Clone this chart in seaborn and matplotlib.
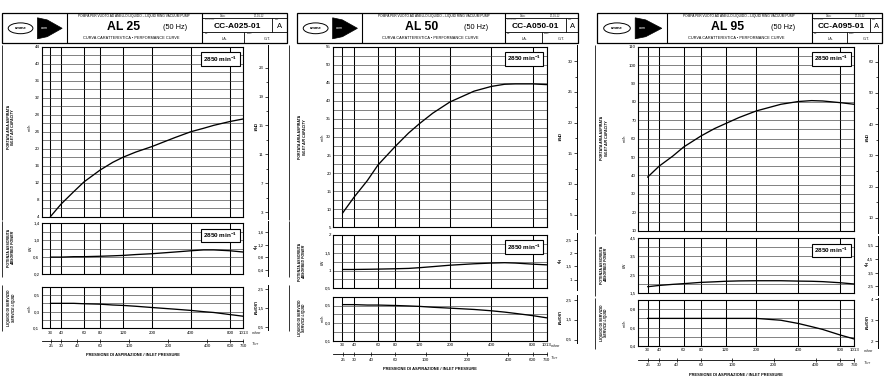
import matplotlib
matplotlib.use("Agg")
import numpy as np
import pandas as pd
import matplotlib.pyplot as plt
import matplotlib.ticker as mticker
from matplotlib.patches import Rectangle, Ellipse, Polygon
import seaborn as sns

# ---------------- data ----------------
pressure_mbar = [33, 40, 50, 60, 80, 100, 120, 150, 200, 300, 400, 500, 600, 800, 1013]
grid_mbar = [33, 40, 60, 80, 120, 200, 400, 800, 1013]
grid_mbar_labels = ["33", "40", "60", "80", "120", "200", "400", "800", "1013"]
torr_ticks = [25, 30, 40, 60, 100, 200, 400, 600, 760]

models = ["AL 25", "AL 50", "AL 95"]
drawing_codes = ["CC-A025-01", "CC-A050-01", "CC-A095-01"]

al25_capacity = [4.0, 7.0, 9.9, 12.2, 15.0, 16.8, 18.0, 19.2, 20.5, 22.6, 24.0, 24.8, 25.5, 26.4, 27.0]
al25_power = [0.60, 0.60, 0.61, 0.61, 0.62, 0.63, 0.64, 0.66, 0.68, 0.72, 0.75, 0.77, 0.77, 0.75, 0.72]
al25_liquid = [0.40, 0.40, 0.40, 0.395, 0.39, 0.38, 0.375, 0.365, 0.35, 0.33, 0.315, 0.30, 0.29, 0.265, 0.245]

al50_capacity = [8.9, 13.3, 17.9, 22.3, 27.4, 31.1, 33.7, 36.6, 39.7, 42.7, 44.0, 44.6, 44.7, 44.7, 44.5]
al50_power = [1.03, 1.03, 1.035, 1.04, 1.05, 1.06, 1.08, 1.11, 1.15, 1.19, 1.21, 1.22, 1.21, 1.18, 1.16]
al50_liquid = [0.51, 0.51, 0.505, 0.505, 0.50, 0.495, 0.49, 0.48, 0.47, 0.455, 0.44, 0.425, 0.41, 0.385, 0.36]

al95_capacity = [39.1, 45.1, 50.5, 55.5, 61.5, 65.5, 68.2, 71.5, 75.1, 78.7, 80.2, 80.7, 80.5, 79.6, 78.7]
al95_power = [1.83, 1.90, 1.96, 2.00, 2.07, 2.10, 2.13, 2.15, 2.16, 2.16, 2.14, 2.13, 2.11, 2.05, 1.98]
al95_liquid = [0.70, 0.70, 0.70, 0.70, 0.70, 0.70, 0.70, 0.70, 0.70, 0.68, 0.645, 0.61, 0.58, 0.52, 0.476]

# axis scales / tick labels
al25_cap_ticks = [4, 8, 12, 16, 20, 24, 28, 32, 36, 40, 44]
al50_cap_ticks = [5, 10, 15, 20, 25, 30, 35, 40, 45, 50, 55]
al95_cap_ticks = [10, 20, 30, 40, 50, 60, 70, 80, 90, 100, 110]
al25_pow_ticks, al25_pow_labels = [0.2, 0.6, 1.0, 1.4], ["0,2", "0,6", "1,0", "1,4"]
al50_pow_ticks, al50_pow_labels = [0.5, 1.0, 1.5, 2.0], ["0,5", "1", "1,5", "2"]
al95_pow_ticks, al95_pow_labels = [1.5, 2.5, 3.5, 4.5], ["1,5", "2,5", "3,5", "4,5"]
al25_liq_ticks, al25_liq_labels = [0.1, 0.3, 0.5], ["0,1", "0,3", "0,5"]
al50_liq_ticks, al50_liq_labels = [0.1, 0.3, 0.5], ["0,1", "0,3", "0,5"]
al95_liq_ticks, al95_liq_labels = [0.4, 0.6, 0.8], ["0,4", "0,6", "0,8"]
al25_cfm_ticks = [3, 7, 11, 15, 19, 23]
al50_cfm_ticks = [5, 10, 15, 20, 25, 30]
al95_cfm_ticks = [10, 20, 30, 40, 50, 60]
al25_hp_ticks, al25_hp_labels = [0.4, 0.8, 1.2, 1.6], ["0,4", "0,8", "1,2", "1,6"]
al50_hp_ticks, al50_hp_labels = [1.0, 1.5, 2.0, 2.5], ["1", "1,5", "2", "2,5"]
al95_hp_ticks, al95_hp_labels = [2.5, 3.5, 4.5, 5.5], ["2,5", "3,5", "4,5", "5,5"]
al25_gpm_ticks, al25_gpm_labels = [0.5, 1.5, 2.5], ["0,5", "1,5", "2,5"]
al50_gpm_ticks, al50_gpm_labels = [0.5, 1.5, 2.5], ["0,5", "1,5", "2,5"]
al95_gpm_ticks, al95_gpm_labels = [2, 3, 4], ["2", "3", "4"]

CFM_PER_M3H = 0.5886
HP_PER_KW = 1.341
GPM_PER_M3H = 4.403
MBAR_PER_TORR = 1.33322

# ---------------- style ----------------
sns.set_theme(style="white")
plt.rcParams["font.family"] = ["Liberation Sans", "DejaVu Sans"]
plt.rcParams["mathtext.fontset"] = "custom"
plt.rcParams["mathtext.rm"] = "Liberation Sans"
plt.rcParams["mathtext.bf"] = "Liberation Sans:bold"

W, H = 890, 379
fig = plt.figure(figsize=(W / 100, H / 100), dpi=100)
fig.patch.set_facecolor("white")


def rect(x0, y0, x1, y1):
    return [x0 / W, 1 - y1 / H, (x1 - x0) / W, (y1 - y0) / H]


XMIN, XMAX = 28.3, 1013
TS = 3.2  # tick label size

sheets = [
    dict(model=models[0], code=drawing_codes[0], hdr=(1.7, 286.7, 13.3, 43.3), lx=66.7, tx=202,
         px=(41.7, 243.3), main_y=(46.7, 216.7), pow_y=(223.3, 274), liq_y=(286.7, 328.3),
         rx=268, unit_x=254, mbar_x=256.5, torr_y=340.7, cap_y=355,
         left_x=9, unit_left=(29.5, 30.5, 30), text_y=(127, 248, 308),
         cap=al25_capacity, pw=al25_power, lq=al25_liquid,
         cap_lim=(4, 44), cap_t=al25_cap_ticks, cap_minor=2,
         pow_lim=(0.2, 1.4), pow_t=al25_pow_ticks, pow_l=al25_pow_labels, pow_minor=0.2,
         liq_lim=(0.1, 0.6), liq_t=al25_liq_ticks, liq_l=al25_liq_labels, liq_minor=0.1,
         cfm_t=al25_cfm_ticks, hp_t=al25_hp_ticks, hp_l=al25_hp_labels,
         gpm_t=al25_gpm_ticks, gpm_l=al25_gpm_labels),
    dict(model=models[1], code=drawing_codes[1], hdr=(296.7, 578.3, 13.3, 43.3), lx=362, tx=505,
         px=(333.3, 546.7), main_y=(46.7, 227.3), pow_y=(235, 288.3), liq_y=(296.7, 340.7),
         rx=576.7, unit_x=558, mbar_x=556, torr_y=354.3, cap_y=369,
         left_x=300, unit_left=(322.5, 322.5, 322.5), text_y=(137, 262, 318),
         cap=al50_capacity, pw=al50_power, lq=al50_liquid,
         cap_lim=(5, 55), cap_t=al50_cap_ticks, cap_minor=2.5,
         pow_lim=(0.5, 2.0), pow_t=al50_pow_ticks, pow_l=al50_pow_labels, pow_minor=0.25,
         liq_lim=(0.1, 0.6), liq_t=al50_liq_ticks, liq_l=al50_liq_labels, liq_minor=0.1,
         cfm_t=al50_cfm_ticks, hp_t=al50_hp_ticks, hp_l=al50_hp_labels,
         gpm_t=al50_gpm_ticks, gpm_l=al50_gpm_labels),
    dict(model=models[2], code=drawing_codes[2], hdr=(596.7, 882.3, 13.3, 43.3), lx=666.7, tx=811.7,
         px=(638.3, 854.3), main_y=(46.7, 230.7), pow_y=(238.3, 292.7), liq_y=(300, 346),
         rx=878, unit_x=865, mbar_x=869, torr_y=360, cap_y=375,
         left_x=602, unit_left=(624.5, 624.5, 624.5), text_y=(138, 265, 323),
         cap=al95_capacity, pw=al95_power, lq=al95_liquid,
         cap_lim=(10, 110), cap_t=al95_cap_ticks, cap_minor=5,
         pow_lim=(1.5, 4.5), pow_t=al95_pow_ticks, pow_l=al95_pow_labels, pow_minor=0.5,
         liq_lim=(0.4, 0.9), liq_t=al95_liq_ticks, liq_l=al95_liq_labels, liq_minor=0.1,
         cfm_t=al95_cfm_ticks, hp_t=al95_hp_ticks, hp_l=al95_hp_labels,
         gpm_t=al95_gpm_ticks, gpm_l=al95_gpm_labels),
]


def panel(s, yrange, values, ylim, ticks, labels, minor_step, bottom_labels, speed_box):
    ax = fig.add_axes(rect(s["px"][0], yrange[0], s["px"][1], yrange[1]))
    df = pd.DataFrame({"pressure": pressure_mbar, "value": values})
    sns.lineplot(data=df, x="pressure", y="value", ax=ax, color="black", linewidth=0.95)
    ax.set_xscale("log")
    ax.set_xlim(XMIN, XMAX)
    ax.set_ylim(*ylim)
    ax.set_xticks(grid_mbar)
    ax.xaxis.set_minor_locator(mticker.NullLocator())
    if bottom_labels:
        ax.set_xticklabels(grid_mbar_labels)
    else:
        ax.set_xticklabels([])
    ax.set_yticks(ticks)
    ax.set_yticklabels(labels)
    n = int(round((ylim[1] - ylim[0]) / minor_step))
    ax.set_yticks([ylim[0] + i * minor_step for i in range(n + 1)], minor=True)
    ax.grid(True, axis="x", which="major", color="black", lw=0.75)
    ax.grid(True, axis="y", which="both", color="#3c3c3c", lw=0.45)
    ax.tick_params(axis="both", which="both", length=0, labelsize=TS, pad=1.6, colors="black")
    ax.set_xlabel("")
    ax.set_ylabel("")
    for sp in ax.spines.values():
        sp.set_color("black")
        sp.set_linewidth(0.8)
    if speed_box:
        ax.annotate("2850 min$^{\\mathbf{-1}}$", xy=(1, 1), xycoords="axes fraction",
                    xytext=(-5.5, -7.5), textcoords="offset pixels", ha="right", va="top",
                    fontsize=4.6, fontweight="bold", color="black",
                    bbox=dict(boxstyle="square,pad=0.35", fc="white", ec="black", lw=0.8))
    return ax


def right_axis(s, yrange, ylim, factor, ticks, labels, minor=None):
    e = 2.0
    vpp = (ylim[1] - ylim[0]) / (yrange[1] - yrange[0])
    lo = (ylim[0] - e * vpp) * factor
    hi = (ylim[1] + e * vpp) * factor
    rax = fig.add_axes(rect(s["rx"], yrange[0] - e, s["rx"] + 1.0, yrange[1] + e))
    rax.patch.set_visible(False)
    for k in ["top", "right", "bottom"]:
        rax.spines[k].set_visible(False)
    rax.spines["left"].set_visible(True)
    rax.spines["left"].set_color("black")
    rax.spines["left"].set_linewidth(0.7)
    rax.set_xticks([])
    rax.set_ylim(lo, hi)
    rax.set_yticks(ticks)
    rax.set_yticklabels(labels)
    if minor is not None:
        rax.set_yticks(minor, minor=True)
    rax.tick_params(axis="y", which="major", direction="out", length=2.2, width=0.5,
                    labelsize=TS, pad=1.0, colors="black", left=True)
    rax.tick_params(axis="y", which="minor", direction="out", length=1.5, width=0.5,
                    colors="black", left=True)
    return rax


for s in sheets:
    panel(s, s["main_y"], s["cap"], s["cap_lim"], s["cap_t"], [str(v) for v in s["cap_t"]],
          s["cap_minor"], False, True)
    panel(s, s["pow_y"], s["pw"], s["pow_lim"], s["pow_t"], s["pow_l"], s["pow_minor"], False, True)
    panel(s, s["liq_y"], s["lq"], s["liq_lim"], s["liq_t"], s["liq_l"], s["liq_minor"], True, False)

    ct = s["cfm_t"]
    cminor = [(ct[i] + ct[i + 1]) / 2 for i in range(len(ct) - 1)]
    right_axis(s, s["main_y"], s["cap_lim"], CFM_PER_M3H, ct, [str(v) for v in ct], cminor)
    right_axis(s, s["pow_y"], s["pow_lim"], HP_PER_KW, s["hp_t"], s["hp_l"])
    right_axis(s, s["liq_y"], s["liq_lim"], GPM_PER_M3H, s["gpm_t"], s["gpm_l"])

    # Torr scale
    tax = fig.add_axes(rect(s["px"][0], s["torr_y"] - 1.0, s["px"][1], s["torr_y"]))
    tax.patch.set_visible(False)
    for k in ["top", "left", "right"]:
        tax.spines[k].set_visible(False)
    tax.spines["bottom"].set_visible(True)
    tax.spines["bottom"].set_color("black")
    tax.spines["bottom"].set_linewidth(0.6)
    tax.set_xscale("log")
    tax.set_xlim(XMIN, XMAX)
    tax.set_xticks([t * MBAR_PER_TORR for t in torr_ticks])
    tax.set_xticklabels([str(t) for t in torr_ticks])
    tax.xaxis.set_minor_locator(mticker.NullLocator())
    tax.set_yticks([])
    tax.tick_params(axis="x", direction="inout", length=2.4, width=0.5, labelsize=TS, pad=1.2,
                    colors="black", bottom=True)

# ---------------- overlay: title blocks and texts ----------------
ov = fig.add_axes([0, 0, 1, 1], zorder=10)
ov.set_xlim(0, W)
ov.set_ylim(H, 0)
ov.axis("off")


def line(x0, y0, x1, y1, lw=0.8, color="black"):
    ov.plot([x0, x1], [y0, y1], color=color, lw=lw, solid_capstyle="butt")


def header(s):
    x0, x1, y0, y1 = s["hdr"]
    lx, tx = s["lx"], s["tx"]
    h = y1 - y0
    ov.add_patch(Rectangle((x0, y0), x1 - x0, h, fill=False, ec="black", lw=0.9))
    line(lx, y0, lx, y1)
    line(tx, y0, tx, y1)
    # logo
    lw_ = lx - x0
    ov.add_patch(Ellipse((x0 + 0.29 * lw_, y0 + 0.5 * h), 0.38 * lw_, 0.36 * h,
                         fill=False, ec="black", lw=0.7))
    ov.text(x0 + 0.29 * lw_, y0 + 0.5 * h, "emme", fontsize=3.0, fontweight="bold",
            ha="center", va="center", color="black")
    pts = [(x0 + 0.55 * lw_, y0 + 0.15 * h), (x0 + 0.70 * lw_, y0 + 0.22 * h),
           (x0 + 0.93 * lw_, y0 + 0.5 * h), (x0 + 0.70 * lw_, y0 + 0.78 * h),
           (x0 + 0.55 * lw_, y0 + 0.85 * h)]
    ov.add_patch(Polygon(pts, closed=True, fc="black", ec="black", lw=0.5))
    ov.text(x0 + 0.65 * lw_, y0 + 0.5 * h, "com", fontsize=2.8, color="white",
            ha="center", va="center")
    # title block
    tw = tx - lx
    ov.text(lx + 0.5 * tw, y0 + 0.1 * h,
            "POMPA PER VUOTO AD ANELLO LIQUIDO – LIQUID RING VACUUM PUMP",
            fontsize=2.3, ha="center", va="center", color="black")
    ov.text(lx + 0.42 * tw, y0 + 0.47 * h, s["model"], fontsize=8.8, fontweight="bold",
            ha="center", va="center", color="black")
    ov.text(lx + 0.80 * tw, y0 + 0.47 * h, "(50 Hz)", fontsize=5.3,
            ha="center", va="center", color="black")
    ov.text(lx + 0.48 * tw, y0 + 0.82 * h, "CURVA CARATTERISTICA • PERFORMANCE CURVE",
            fontsize=2.8, ha="center", va="center", color="black")
    # right block
    rw = x1 - tx
    r1 = y0 + 0.17 * h
    r2 = y0 + 0.62 * h
    line(tx, r1, x1, r1, lw=0.6)
    line(tx, r2, x1, r2, lw=0.6)
    line(tx + 0.83 * rw, r1, tx + 0.83 * rw, r2, lw=0.6)
    line(tx + 0.5 * rw, r2, tx + 0.5 * rw, y1, lw=0.6)
    ov.text(tx + 0.25 * rw, y0 + 0.09 * h, "Data:", fontsize=1.9, ha="center", va="center")
    ov.text(tx + 0.68 * rw, y0 + 0.09 * h, "20-01-12", fontsize=1.9, ha="center", va="center")
    ov.text(tx + 0.03 * rw, r1 + 0.7, "Tavola N°", fontsize=1.6, ha="left", va="top")
    ov.text(tx + 0.855 * rw, r1 + 0.7, "Rev.", fontsize=1.6, ha="left", va="top")
    ov.text(tx + 0.42 * rw, (r1 + r2) / 2 + 1.0, s["code"], fontsize=6.0, fontweight="bold",
            ha="center", va="center", color="black")
    ov.text(tx + 0.915 * rw, (r1 + r2) / 2 + 1.0, "A", fontsize=5.5,
            ha="center", va="center", color="black")
    ov.text(tx + 0.03 * rw, r2 + 0.6, "Dis.", fontsize=1.6, ha="left", va="top")
    ov.text(tx + 0.53 * rw, r2 + 0.6, "Contr.", fontsize=1.6, ha="left", va="top")
    ov.text(tx + 0.27 * rw, r2 + 0.62 * (y1 - r2), "I.A.", fontsize=2.8, ha="center", va="center")
    ov.text(tx + 0.77 * rw, r2 + 0.62 * (y1 - r2), "G.T.", fontsize=2.8, ha="center", va="center")


for s in sheets:
    header(s)
    # left descriptions
    lx = s["left_x"]
    names = [("PORTATA ARIA ASPIRATA", "INLET AIR CAPACITY", "m³/h"),
             ("POTENZA ASSORBITA", "ABSORBED POWER", "kW"),
             ("LIQUIDO DI SERVIZIO", "SERVICE LIQUID", "m³/h")]
    for (it, en, unit), ty, ux in zip(names, s["text_y"], s["unit_left"]):
        ov.text(lx, ty, it, rotation=90, fontsize=2.5, fontweight="bold",
                ha="center", va="center", color="black")
        ov.text(lx + 4.5, ty, en, rotation=90, fontsize=2.5, fontweight="bold", style="italic",
                ha="center", va="center", color="black")
        ov.text(ux, ty, unit, rotation=90, fontsize=2.6, ha="center", va="center", color="black")
    # right units
    for unit, ty in zip(["CFM", "Hp", "USGPM"], s["text_y"]):
        ov.text(s["unit_x"], ty, unit, rotation=270, fontsize=2.8, fontweight="bold",
                ha="center", va="center", color="black")
    # pressure units and caption
    ly = s["liq_y"][1]
    ov.text(s["mbar_x"], ly + 5.0, "mbar", fontsize=3.0, style="italic", ha="center", va="center")
    ov.text(s["mbar_x"] - 1.5, s["torr_y"] + 3.5, "Torr", fontsize=3.0, style="italic",
            ha="center", va="center")
    pcx = (s["px"][0] + s["px"][1]) / 2 - 10
    ov.text(pcx, s["cap_y"], "PRESSIONE DI ASPIRAZIONE / INLET PRESSURE", fontsize=2.9,
            fontweight="bold", ha="center", va="center", color="black")

# sheet border segments
for bx, s in [(2.0, sheets[0]), (288.5, sheets[0]), (594.5, sheets[2])]:
    for (a, b) in [s["main_y"], s["pow_y"], s["liq_y"]]:
        line(bx, a - 2, bx, b + 3, lw=0.7, color="#333333")

fig.savefig("out.png", dpi=100, facecolor="white")
